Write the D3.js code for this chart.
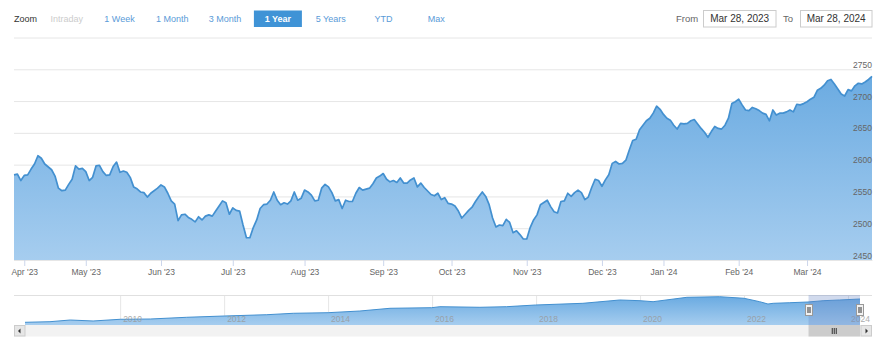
<!DOCTYPE html>
<html>
<head>
<meta charset="utf-8">
<script src="https://cdn.jsdelivr.net/npm/d3@7/dist/d3.min.js"></script>
<style>
  body { margin: 0; background: #fff; }
  svg { display: block; font-family: "Liberation Sans", Arial, sans-serif; }
</style>
</head>
<body>
<div id="chart"></div>
<script>
// trading day index (0 = Mar 28 2023) and close
var tradingDay = [0,1,2,3,4,5,6,7,8,9,11,12,13,14,15,16,17,18,19,20,21,22,23,24,25,26,27,28,29,30,
  31,32,33,34,35,36,37,38,39,40,42,43,44,45,46,47,48,49,50,51,52,53,54,55,56,57,58,59,60,61,
  62,63,64,65,66,67,68,69,70,71,72,73,74,75,76,77,78,79,80,81,82,83,84,85,86,87,88,89,90,91,
  92,93,94,95,96,97,98,99,100,101,102,104,105,106,107,108,109,110,111,112,113,114,115,116,117,118,119,120,
  122,123,124,125,126,127,128,129,130,131,132,133,134,135,136,137,138,139,140,141,142,143,144,145,146,147,148,149,150,
  151,152,153,154,156,157,158,159,160,161,162,163,164,165,166,167,168,169,170,171,172,173,174,175,176,177,178,179,180,
  181,182,183,184,185,186,187,188,189,190,191,192,193,194,195,196,197,198,199,200,201,202,203,204,205,206,207,208,209,210,
  211,212,213,214,215,216,217,218,219,220,221,222,223,224,225,226,227,228,229,230,231,232,233,234,235,236,237,238,239,240,
  241,242,243,244,245,246,247,248,249,250,251]
var closeValues = [2584,2585,2575,2583,2584,2593,2601,2614,2610,2601,2592,2582,2563,2559,2560,2569,2577,2598,2593,2594,2589,2575,2580,2598,2599,2589,2583,2584,2597,2604,
  2588,2590,2588,2580,2565,2562,2557,2556,2549,2555,2563,2568,2565,2555,2543,2538,2512,2521,2522,2517,2514,2510,2518,2513,2519,2521,2519,2527,2535,2543,
  2540,2522,2532,2528,2527,2505,2485,2485,2501,2513,2531,2537,2538,2544,2557,2544,2537,2540,2538,2543,2557,2544,2547,2560,2557,2552,2543,2544,2563,2569,
  2565,2556,2543,2545,2531,2544,2542,2542,2555,2564,2560,2563,2570,2579,2582,2586,2577,2573,2575,2572,2579,2571,2571,2576,2579,2565,2571,2564,
  2553,2551,2555,2545,2548,2539,2538,2535,2527,2516,2522,2528,2533,2542,2550,2557,2550,2537,2516,2502,2505,2504,2514,2509,2493,2496,2490,2483,2483,
  2501,2513,2521,2537,2544,2534,2526,2524,2542,2543,2555,2550,2556,2560,2556,2545,2549,2564,2577,2575,2566,2576,2584,2602,2605,2601,2602,2607,2623,
  2638,2640,2655,2662,2669,2673,2681,2692,2687,2679,2673,2670,2662,2656,2665,2664,2665,2669,2671,2664,2657,2651,2643,2652,2660,2657,2656,2662,2673,2696,
  2699,2703,2694,2686,2685,2690,2688,2685,2681,2679,2669,2686,2678,2681,2681,2683,2686,2683,2695,2694,2696,2699,2703,2706,2717,2720,2725,2732,2734,2727,
  2719,2711,2708,2718,2716,2724,2728,2727,2730,2734,2739]

var monthTickDays = [3,21,43,64,85,108,128,150,172,190,212,232]
var monthLabels = ["Apr '23","May '23","Jun '23","Jul '23","Aug '23","Sep '23","Oct '23","Nov '23","Dec '23","Jan '24","Feb '24","Mar '24"]
var gridValues = [2450,2500,2550,2600,2650,2700,2750,2800]
var yLabelValues = [2450,2500,2550,2600,2650,2700,2750]

var rangeButtons = ["Intraday","1 Week","1 Month","3 Month","1 Year","5 Years","YTD","Max"]
var selectedButton = "1 Year"
var disabledButton = "Intraday"
var fromDate = "Mar 28, 2023"
var toDate = "Mar 28, 2024"

// navigator: whole history, years as decimals
var navYears = [2008.17,2008.65,2009.04,2009.48,2010,2010.58,2011.28,2012,2012.82,2013.33,2014,2014.61,2015.19,2015.99,
  2016.15,2016.92,2017.43,2017.99,2018.9,2019.61,2020,2020.25,2020.9,2021.53,2022,2022.3,2022.46,2022.56,2022.88,2023.23,2023.52,2023.84,2024.23]
var navValues = [1762,1788,1858,1817,1888,1900,1971,2025,2079,2138,2163,2233,2346,2371,
  2413,2388,2413,2483,2554,2692,2663,2621,2804,2829,2763,2621,2525,2554,2579,2608,2663,2692,2733]
var navYearTicks = [2010,2012,2014,2016,2018,2020,2022,2024]
var navSelection = [2023.24, 2024.23]

var W = 884, H = 349
var plotL = 14, plotR = 872, plotT = 37.5, plotB = 260

var svg = d3.select('#chart').append('svg')
  .attr('width', W)
  .attr('height', H)

var defs = svg.append('defs')
var grad = defs.append('linearGradient')
  .attr('id', 'areaFill')
  .attr('gradientUnits', 'userSpaceOnUse')
  .attr('x1', 0).attr('x2', 0).attr('y1', 70).attr('y2', plotB)
grad.append('stop').attr('offset', 0).attr('stop-color', '#69aae1')
grad.append('stop').attr('offset', 1).attr('stop-color', '#a6cdef')

var navGrad = defs.append('linearGradient')
  .attr('id', 'navFill')
  .attr('gradientUnits', 'userSpaceOnUse')
  .attr('x1', 0).attr('x2', 0).attr('y1', 296).attr('y2', 325)
navGrad.append('stop').attr('offset', 0).attr('stop-color', '#69aae1')
navGrad.append('stop').attr('offset', 1).attr('stop-color', '#a6cdef')

var series = tradingDay.map(function(d, i) { return { day: d, close: closeValues[i] } })

var x = d3.scaleLinear().domain(d3.extent(tradingDay)).range([plotL, plotR])
var y = d3.scaleLinear().domain([2450, 2800]).range([plotB, plotT])

// grid
var grid = svg.append('g')
  .attr('transform', 'translate(' + plotL + ',0)')
  .call(d3.axisRight(y).tickValues(gridValues).tickSize(plotR - plotL).tickFormat(''))
grid.select('.domain').remove()
grid.selectAll('line').attr('stroke', '#e6e6e6')

// area + line
svg.append('path')
  .datum(series)
  .attr('fill', 'url(#areaFill)')
  .attr('d', d3.area().x(function(d) { return x(d.day) }).y0(plotB).y1(function(d) { return y(d.close) }))
svg.append('path')
  .datum(series)
  .attr('fill', 'none')
  .attr('stroke', '#4390d0')
  .attr('stroke-width', 1.7)
  .attr('stroke-linejoin', 'round')
  .attr('d', d3.line().x(function(d) { return x(d.day) }).y(function(d) { return y(d.close) }))

// x axis
var xAxis = svg.append('g')
  .attr('transform', 'translate(0,' + plotB + ')')
  .call(d3.axisBottom(x).tickValues(monthTickDays)
    .tickFormat(function(d, i) { return monthLabels[i] })
    .tickSizeInner(6).tickSizeOuter(0).tickPadding(3))
xAxis.select('.domain').attr('stroke', '#e6e6e6')
xAxis.selectAll('line').attr('stroke', '#ccd6eb')
xAxis.selectAll('text').attr('fill', '#666').style('font-size', '8.5px')

// y labels, right side above gridline
var yAxis = svg.append('g')
  .attr('transform', 'translate(' + plotR + ',0)')
  .call(d3.axisLeft(y).tickValues(yLabelValues).tickFormat(d3.format('d')).tickSize(0).tickPadding(0))
yAxis.select('.domain').remove()
yAxis.selectAll('text')
  .attr('fill', '#666')
  .attr('dy', null)
  .attr('y', -2)
  .style('font-size', '8.5px')

// range selector
var tb = svg.append('g')
tb.append('text')
  .attr('x', 14).attr('y', 21.5)
  .attr('fill', '#333')
  .style('font-size', '9px')
  .text('Zoom')
var btn = tb.selectAll('g.btn').data(rangeButtons).enter().append('g')
  .attr('class', 'btn')
  .attr('transform', function(d, i) { return 'translate(' + (66.7 + i * 52.8) + ',0)' })
btn.filter(function(d) { return d === selectedButton }).append('rect')
  .attr('x', -24).attr('y', 10.5).attr('width', 48).attr('height', 16.5)
  .attr('fill', '#3f93d6')
btn.append('text')
  .attr('text-anchor', 'middle')
  .attr('y', 21.5)
  .style('font-size', '9px')
  .style('font-weight', function(d) { return d === selectedButton ? 'bold' : 'normal' })
  .attr('fill', function(d) {
    if (d === selectedButton) return '#fff'
    if (d === disabledButton) return '#ccc'
    return '#5a9bd8'
  })
  .text(function(d) { return d })

// date inputs
tb.append('text').attr('x', 676).attr('y', 21.5).attr('fill', '#666').style('font-size', '9.5px').text('From')
tb.append('rect').attr('x', 703.5).attr('y', 10.5).attr('width', 72.5).attr('height', 16.5)
  .attr('fill', '#fff').attr('stroke', '#ccc')
tb.append('text').attr('x', 739.7).attr('y', 22).attr('text-anchor', 'middle').attr('fill', '#333')
  .style('font-size', '10px').text(fromDate)
tb.append('text').attr('x', 783).attr('y', 21.5).attr('fill', '#666').style('font-size', '9.5px').text('To')
tb.append('rect').attr('x', 800.5).attr('y', 10.5).attr('width', 71.5).attr('height', 16.5)
  .attr('fill', '#fff').attr('stroke', '#ccc')
tb.append('text').attr('x', 836.2).attr('y', 22).attr('text-anchor', 'middle').attr('fill', '#333')
  .style('font-size', '10px').text(toDate)

// navigator
var navT = 295, navB = 325
var nx = d3.scaleLinear().domain([navYears[0], navYears[navYears.length - 1]]).range([25, 860])
var ny = d3.scaleLinear().domain([1650, 2900]).range([navB, navT])
var nav = svg.append('g')

var navGrid = nav.append('g')
  .attr('transform', 'translate(0,' + navB + ')')
  .call(d3.axisTop(nx).tickValues(navYearTicks).tickSize(navB - navT).tickFormat(''))
navGrid.select('.domain').remove()
navGrid.selectAll('line').attr('stroke', '#e6e6e6')

nav.append('line').attr('x1', plotL).attr('x2', plotR).attr('y1', navT + 0.5).attr('y2', navT + 0.5)
  .attr('stroke', '#e0e0e0')

var navSeries = navYears.map(function(d, i) { return { t: d, v: navValues[i] } })
nav.append('path').datum(navSeries)
  .attr('fill', 'url(#navFill)')
  .attr('d', d3.area().x(function(d) { return nx(d.t) }).y0(navB).y1(function(d) { return ny(d.v) }))
nav.append('path').datum(navSeries)
  .attr('fill', 'none').attr('stroke', '#4390d0').attr('stroke-width', 1)
  .attr('d', d3.line().x(function(d) { return nx(d.t) }).y(function(d) { return ny(d.v) }))

nav.selectAll('text.yr').data(navYearTicks).enter().append('text')
  .attr('class', 'yr')
  .attr('x', function(d) { return nx(d) + 3 })
  .attr('y', 322)
  .attr('fill', '#999')
  .attr('opacity', 0.8)
  .style('font-size', '8.5px')
  .text(function(d) { return d })

var sx0 = nx(navSelection[0]), sx1 = nx(navSelection[1])
nav.append('rect')
  .attr('x', sx0).attr('y', navT).attr('width', sx1 - sx0).attr('height', navB - navT)
  .attr('fill', 'rgba(102,133,194,0.3)')
;[sx0, sx1].forEach(function(hx) {
  var h = nav.append('g').attr('transform', 'translate(' + Math.round(hx) + ',0)')
  h.append('rect').attr('x', -3.5).attr('y', 304.5).attr('width', 7).attr('height', 11)
    .attr('fill', '#f2f2f2').attr('stroke', '#999')
  h.append('line').attr('x1', -1).attr('x2', -1).attr('y1', 307).attr('y2', 313).attr('stroke', '#333')
  h.append('line').attr('x1', 1).attr('x2', 1).attr('y1', 307).attr('y2', 313).attr('stroke', '#333')
})

// scrollbar
var sb = svg.append('g')
sb.append('rect').attr('x', plotL).attr('y', 325).attr('width', plotR - plotL).attr('height', 11.5).attr('fill', '#f2f2f2')
sb.append('rect').attr('x', sx0).attr('y', 325).attr('width', sx1 - sx0).attr('height', 11.5).attr('fill', '#cccccc')
;[-2, 0, 2].forEach(function(o) {
  sb.append('line').attr('x1', (sx0 + sx1) / 2 + o).attr('x2', (sx0 + sx1) / 2 + o)
    .attr('y1', 328).attr('y2', 334).attr('stroke', '#333')
})
sb.append('rect').attr('x', plotL + 0.5).attr('y', 325.5).attr('width', 10.5).attr('height', 10.5)
  .attr('fill', '#e6e6e6').attr('stroke', '#ccc')
sb.append('path').attr('d', 'M20.5,328.5 L18,331 L20.5,333.5 Z').attr('fill', '#333')
sb.append('rect').attr('x', plotR - 11).attr('y', 325.5).attr('width', 10.5).attr('height', 10.5)
  .attr('fill', '#e6e6e6').attr('stroke', '#ccc')
sb.append('path').attr('d', 'M865.5,328.5 L868,331 L865.5,333.5 Z').attr('fill', '#333')
</script>
</body>
</html>
